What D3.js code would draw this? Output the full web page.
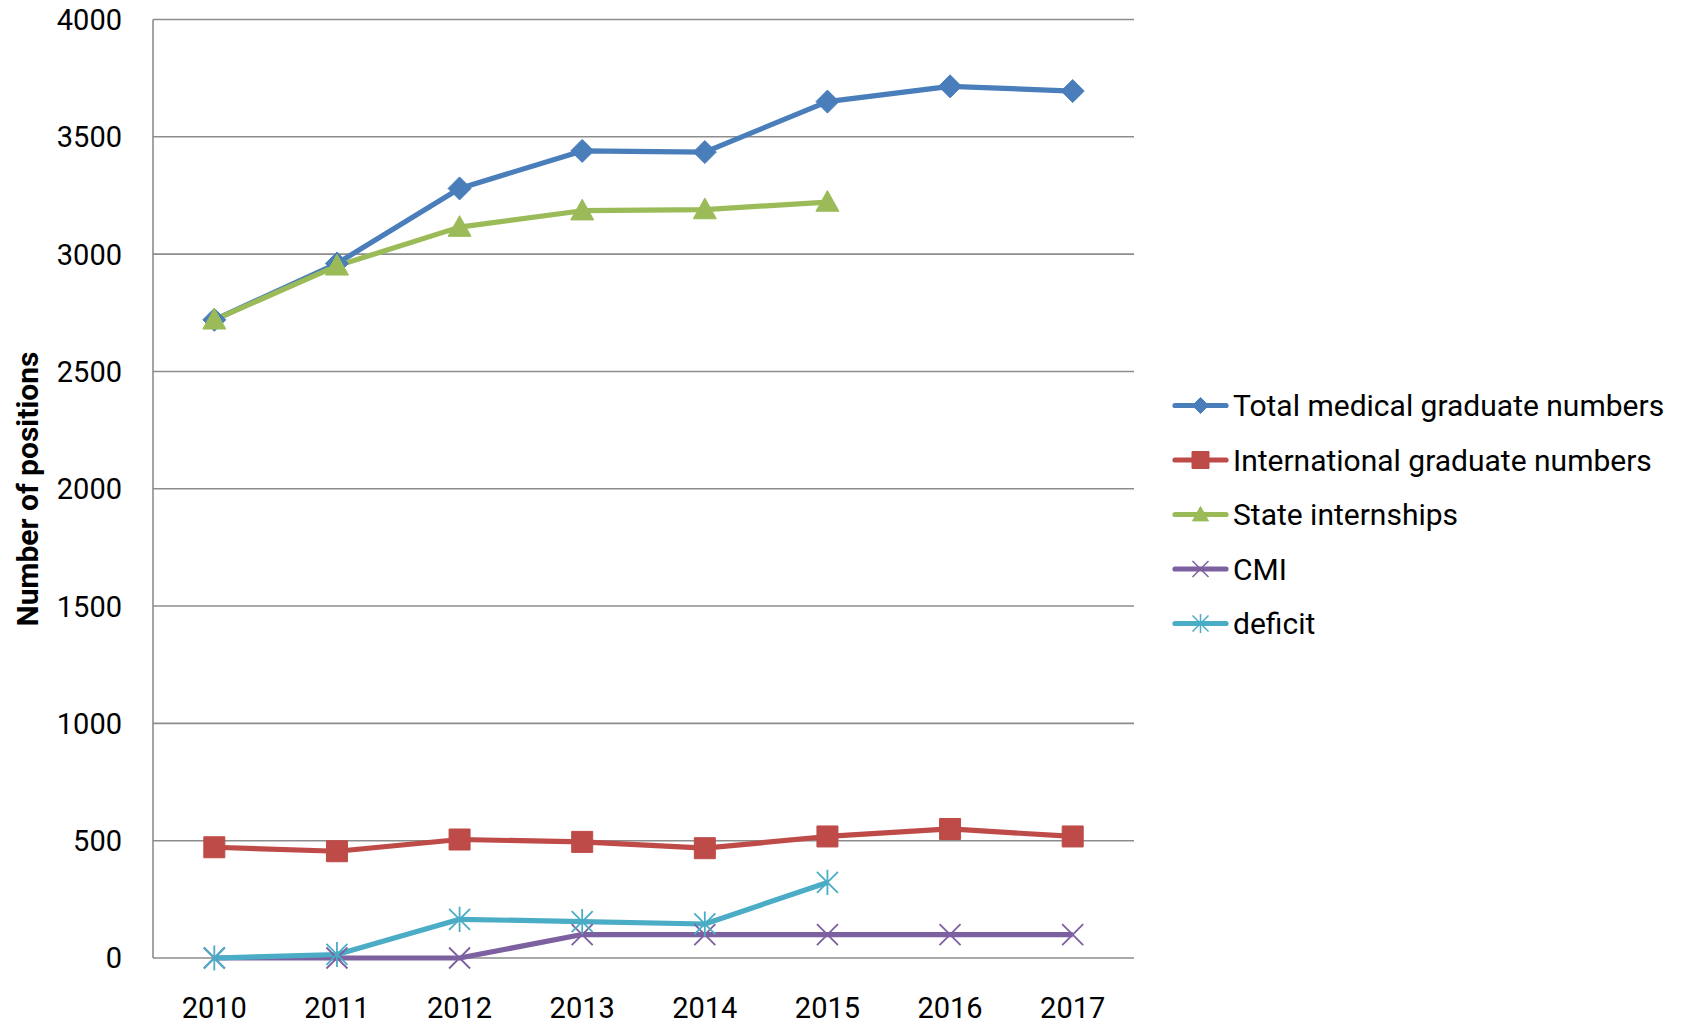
<!DOCTYPE html>
<html>
<head>
<meta charset="utf-8">
<script src="https://cdn.jsdelivr.net/npm/d3@7"></script>
<style>
  html, body { margin: 0; padding: 0; background: #fff; }
  svg { display: block; }
  text { font-family: Roboto, "Open Sans", sans-serif; fill: #000; }
</style>
</head>
<body>
<svg id="chart" width="1688" height="1025"></svg>
<script>
const years = ["2010", "2011", "2012", "2013", "2014", "2015", "2016", "2017"];
const yTicks = [0, 500, 1000, 1500, 2000, 2500, 3000, 3500, 4000];
const totalGraduates = [2720, 2960, 3280, 3440, 3435, 3650, 3715, 3695];
const internationalGraduates = [472, 455, 505, 495, 468, 518, 550, 518];
const stateInternships = [2720, 2950, 3115, 3185, 3190, 3222, null, null];
const cmi = [0, 0, 0, 100, 100, 100, 100, 100];
const deficit = [0, 15, 165, 155, 145, 322, null, null];
const seriesNames = ["Total medical graduate numbers", "International graduate numbers", "State internships", "CMI", "deficit"];
const seriesColors = ["#4A7EBB", "#BE4B48", "#9BBB59", "#7D60A0", "#4BACC6"];
const seriesMarkers = ["diamond", "square", "triangle", "x", "star"];
const yTitle = "Number of positions";

const series = [totalGraduates, internationalGraduates, stateInternships, cmi, deficit].map((vals, i) => ({
  name: seriesNames[i], color: seriesColors[i], marker: seriesMarkers[i],
  points: years.map((y, j) => ({ year: y, value: vals[j] })).filter(d => d.value !== null)
}));

const svg = d3.select("#chart");
const plotLeft = 153, plotRight = 1134, plotTop = 19.5, plotBottom = 958;

const x = d3.scaleBand().domain(years).range([plotLeft, plotRight]).padding(0);
const y = d3.scaleLinear().domain([0, 4000]).range([plotBottom, plotTop]);

// gridlines
svg.append("g").selectAll("line").data(yTicks).join("line")
  .attr("x1", plotLeft).attr("x2", plotRight)
  .attr("y1", d => y(d)).attr("y2", d => y(d))
  .attr("stroke", "#8C8C8C").attr("stroke-width", 1.6);

// left axis line
svg.append("line").attr("x1", plotLeft).attr("x2", plotLeft).attr("y1", y(4000)).attr("y2", y(0))
  .attr("stroke", "#8C8C8C").attr("stroke-width", 1.6);

// y tick labels
svg.append("g").selectAll("text").data(yTicks).join("text")
  .attr("x", 122).attr("y", d => y(d)).attr("dy", "0.36em")
  .attr("text-anchor", "end").attr("font-size", 29).text(d => d);

// x tick labels
svg.append("g").selectAll("text").data(years).join("text")
  .attr("x", d => x(d) + x.bandwidth() / 2).attr("y", 1008).attr("dy", "0.36em")
  .attr("text-anchor", "middle").attr("font-size", 29).text(d => d);

// y axis title
svg.append("text")
  .attr("transform", "translate(27,489) rotate(-90)")
  .attr("text-anchor", "middle").attr("dy", "0.36em")
  .attr("font-size", 30).attr("font-weight", "bold").text(yTitle);

function markerPath(type, s) {
  const h = s / 2;
  switch (type) {
    case "diamond": return `M0,${-h}L${h},0L0,${h}L${-h},0Z`;
    case "square": return `M${-h},${-h}H${h}V${h}H${-h}Z`;
    case "triangle": return `M0,${-h}L${h},${h * 0.8}L${-h},${h * 0.8}Z`;
    case "x": return `M${-h},${-h}L${h},${h}M${h},${-h}L${-h},${h}`;
    case "star": return `M${-h},${-h}L${h},${h}M${h},${-h}L${-h},${h}M0,${-h * 1.2}L0,${h * 1.2}`;
  }
}
const markerSize = { diamond: 23, square: 21, triangle: 23, x: 21, star: 21 };

const line = d3.line().x(d => x(d.year) + x.bandwidth() / 2).y(d => y(d.value));

const g = svg.append("g");
series.forEach(s => {
  g.append("path").datum(s.points).attr("d", line)
    .attr("fill", "none").attr("stroke", s.color).attr("stroke-width", 5.2)
    .attr("stroke-linejoin", "round");
});
series.forEach(s => {
  const open = s.marker === "x" || s.marker === "star";
  g.append("g").selectAll("path").data(s.points).join("path")
    .attr("transform", d => `translate(${x(d.year) + x.bandwidth() / 2},${y(d.value)})`)
    .attr("d", markerPath(s.marker, markerSize[s.marker]))
    .attr("fill", open ? "none" : s.color)
    .attr("stroke", s.color).attr("stroke-width", open ? 1.8 : 1);
});

// legend
const legY = d3.scalePoint().domain(seriesNames).range([405.5, 623.5]);
const leg = svg.append("g");
series.forEach(s => {
  const ly = legY(s.name);
  leg.append("line").attr("x1", 1175).attr("x2", 1226).attr("y1", ly).attr("y2", ly)
    .attr("stroke", s.color).attr("stroke-width", 5.2).attr("stroke-linecap", "round");
  const open = s.marker === "x" || s.marker === "star";
  leg.append("path").attr("transform", `translate(1200.5,${ly})`)
    .attr("d", markerPath(s.marker, s.marker === "square" ? 17 : 16))
    .attr("fill", open ? "none" : s.color)
    .attr("stroke", s.color).attr("stroke-width", open ? 1.5 : 1);
  leg.append("text").attr("x", 1233).attr("y", ly).attr("dy", "0.36em")
    .attr("font-size", 30).text(s.name);
});
</script>
</body>
</html>
